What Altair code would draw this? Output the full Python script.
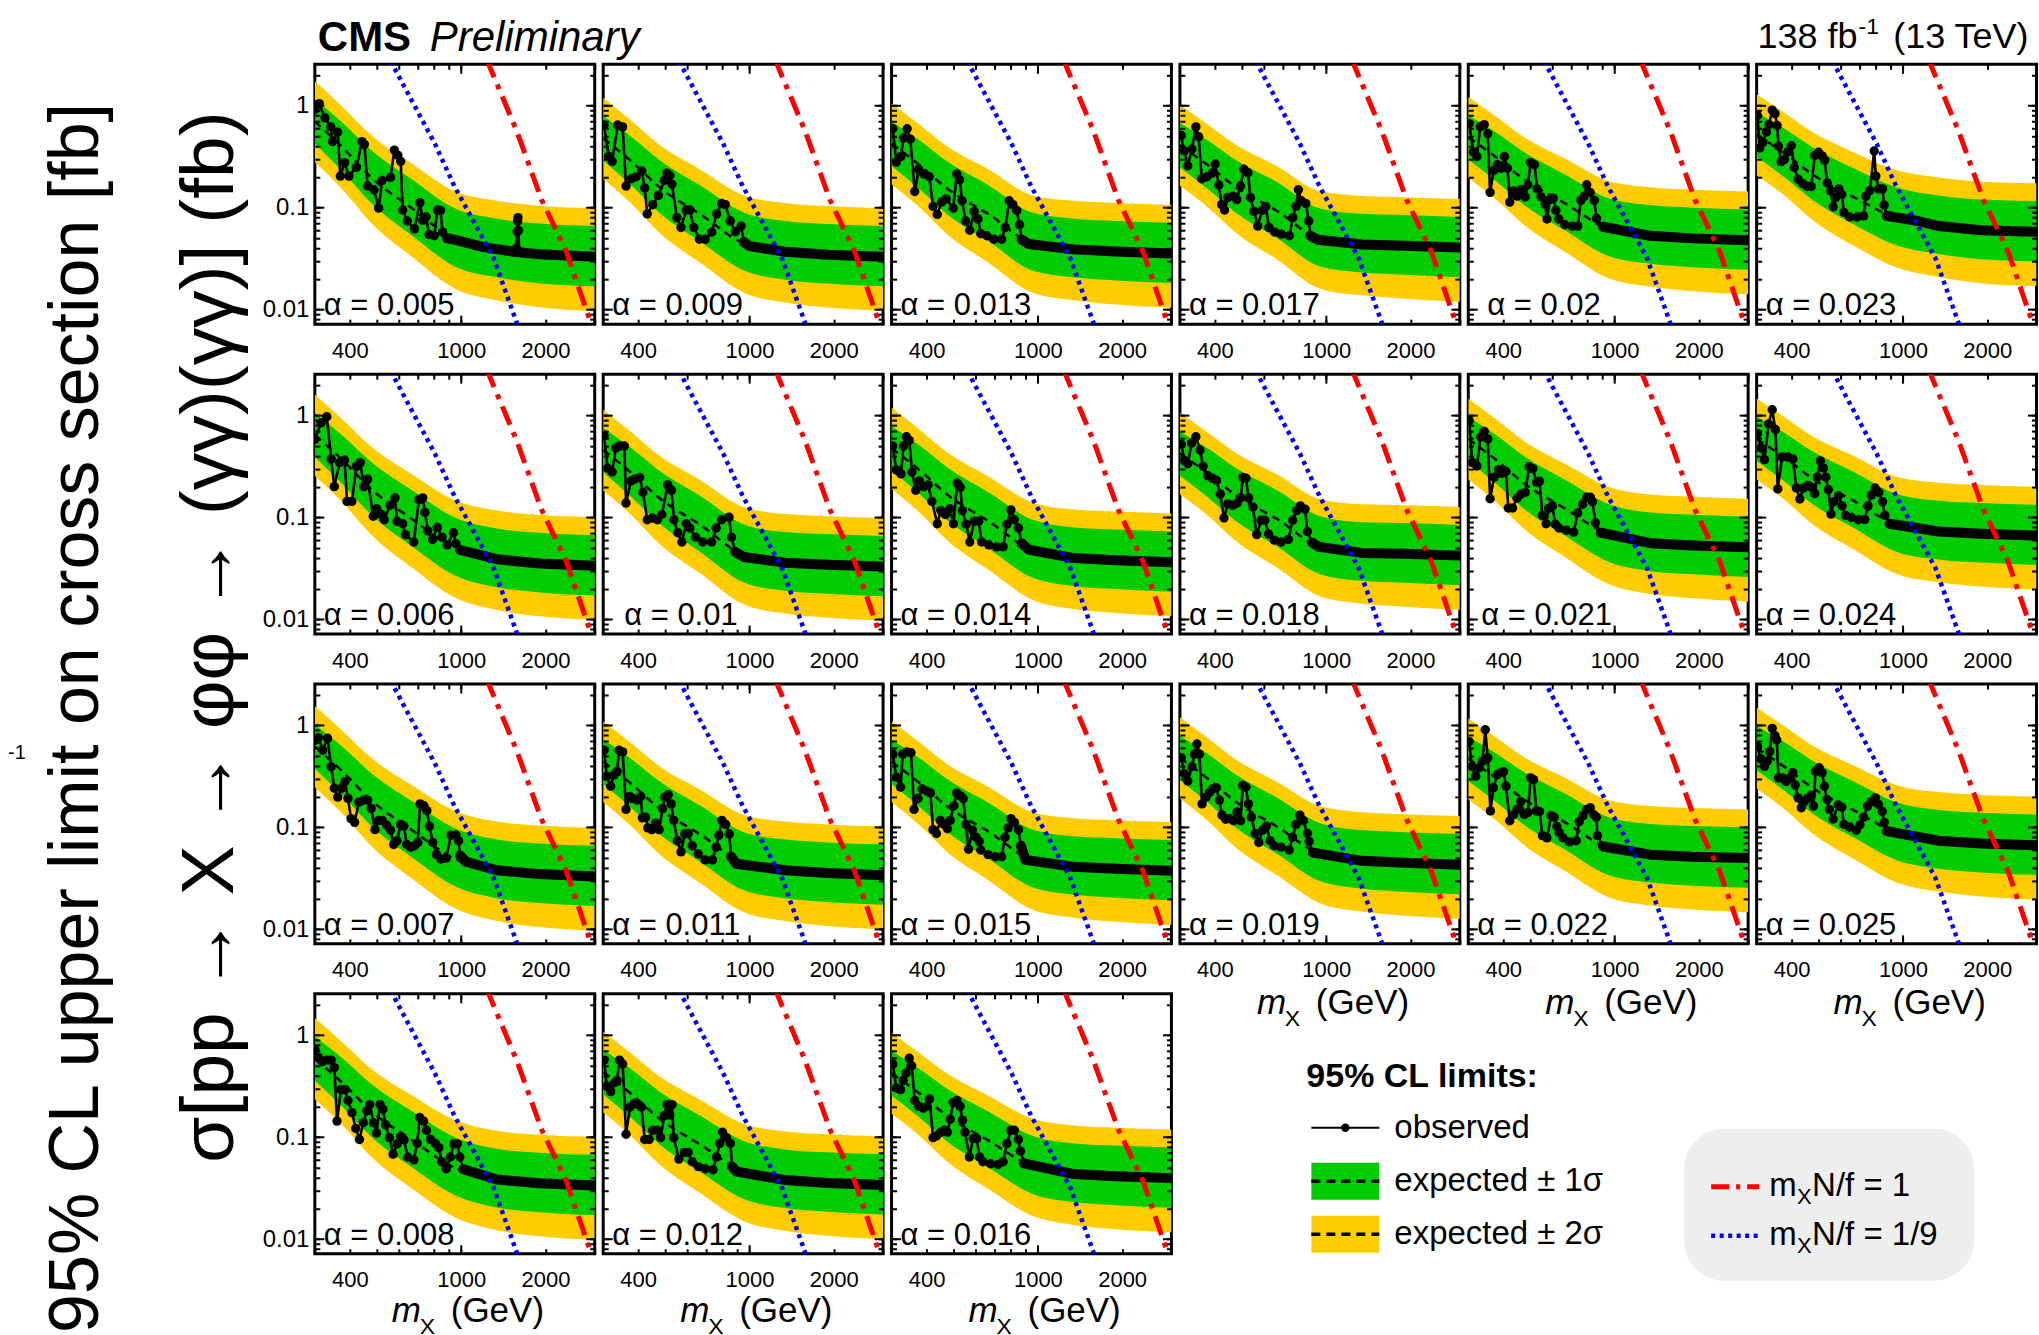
import altair as alt
import pandas as pd

FONT = "Liberation Sans"
YELLOW = "#ffcc00"
GREEN = "#00cc00"

# ---------------- data ----------------
ALPHA_LABELS = ["0.005", "0.009", "0.013", "0.017", "0.02", "0.023",
                "0.006", "0.01", "0.014", "0.018", "0.021", "0.024",
                "0.007", "0.011", "0.015", "0.019", "0.022", "0.025",
                "0.008", "0.012", "0.016"]

BAND_M = [300, 380, 475, 670, 950, 1340, 1900, 3000]
# relative widths of the expected bands (upper factor / lower divisor)
BAND_G_UP = [1.65, 1.75, 1.85, 1.92, 2.0, 2.0, 2.0, 2.0]
BAND_G_DN = [1.65, 1.72, 1.78, 1.85, 1.85, 1.88, 1.92, 1.95]
BAND_Y_UP = [2.5, 2.5, 2.6, 2.75, 2.95, 3.0, 3.0, 3.0]
BAND_Y_DN = [2.5, 2.6, 2.8, 3.0, 3.05, 3.15, 3.3, 3.4]

EXPECTED = [
    [0.70, 0.381, 0.200, 0.0977, 0.049, 0.039, 0.0349, 0.033],
    [0.48, 0.281, 0.160, 0.0853, 0.045, 0.037, 0.0346, 0.033],
    [0.424, 0.258, 0.153, 0.0856, 0.045, 0.039, 0.0371, 0.0355],
    [0.41, 0.258, 0.159, 0.0922, 0.049, 0.0435, 0.0423, 0.0406],
    [0.49, 0.308, 0.189, 0.109, 0.062, 0.053, 0.050, 0.048],
    [0.52, 0.336, 0.212, 0.126, 0.079, 0.066, 0.060, 0.058],
    [0.644, 0.357, 0.192, 0.0958, 0.050, 0.039, 0.0354, 0.0336],
    [0.46, 0.271, 0.156, 0.0841, 0.043, 0.036, 0.0344, 0.033],
    [0.48, 0.287, 0.167, 0.091, 0.048, 0.040, 0.0382, 0.0365],
    [0.424, 0.268, 0.165, 0.0958, 0.0515, 0.045, 0.0441, 0.0423],
    [0.59, 0.362, 0.216, 0.121, 0.068, 0.056, 0.0533, 0.051],
    [0.59, 0.382, 0.241, 0.145, 0.085, 0.073, 0.0694, 0.0667],
    [0.62, 0.345, 0.186, 0.0934, 0.049, 0.038, 0.0348, 0.033],
    [0.44, 0.264, 0.154, 0.0844, 0.045, 0.038, 0.0356, 0.034],
    [0.44, 0.269, 0.160, 0.090, 0.048, 0.041, 0.0392, 0.0375],
    [0.48, 0.296, 0.178, 0.101, 0.055, 0.047, 0.0449, 0.043],
    [0.47, 0.30, 0.1875, 0.1105, 0.063, 0.054, 0.0515, 0.05],
    [0.60, 0.386, 0.244, 0.146, 0.088, 0.074, 0.0694, 0.0667],
    [0.59, 0.333, 0.182, 0.093, 0.050, 0.0385, 0.0353, 0.0336],
    [0.436, 0.262, 0.153, 0.084, 0.046, 0.038, 0.0356, 0.034],
    [0.424, 0.264, 0.161, 0.092, 0.052, 0.0435, 0.0414, 0.0397],
]

OBSERVED = [
    # 0.005
    [(300, .915), (311, 1.05), (326, .76), (342, .62), (347, .445), (362, .55), (370, .204), (383, .277),
     (397, .204), (422, .248), (442, .445), (451, .418), (463, .163), (488, .150), (507, .099), (522, .185),
     (559, .198), (577, .367), (594, .327), (608, .285), (618, .095), (642, .074), (681, .062), (712, .112),
     (729, .075), (749, .081), (768, .0545), (801, .053), (822, .095), (843, .094), (858, .0575), (892, .050),
     (962, .048), (1200, .041), (1540, .037), (1575, .040), (1585, .058), (1590, .074), (1596, .080),
     (1602, .060), (1612, .037), (1900, .0349), (3000, .033)],
    # 0.009
    [(302, .648), (314, .318), (323, .285), (338, .648), (352, .62), (362, .163), (379, .1925), (393, .201),
     (412, .229), (422, .156), (431, .087), (451, .107), (472, .132), (496, .185), (507, .218), (519, .207),
     (528, .170), (550, .080), (569, .064), (594, .095), (612, .095), (632, .064), (662, .049), (694, .049),
     (732, .0575), (763, .087), (795, .110), (819, .107), (854, .074), (890, .058), (933, .066), (954, .046),
     (997, .042), (1340, .037), (1900, .0346), (3000, .033)],
    # 0.013
    [(303, .595), (312, .28), (324, .318), (331, .482), (341, .595), (350, .47), (363, .144), (375, .238),
     (391, .214), (409, .201), (422, .103), (437, .086), (453, .114), (470, .122), (498, .099), (513, .214),
     (525, .188), (536, .117), (552, .074), (571, .060), (592, .092), (611, .0775), (625, .0555), (657, .053),
     (696, .049), (742, .049), (765, .064), (790, .117), (814, .107), (840, .094), (860, .068), (876, .0485),
     (927, .044), (1340, .039), (1900, .0371), (3000, .0355)],
    # 0.017
    [(303, .51), (311, .36), (320, .258), (331, .376), (342, .62), (350, .497), (359, .1925), (375, .201),
     (391, .218), (401, .268), (413, .167), (423, .107), (433, .095), (445, .126), (465, .13), (479, .12),
     (494, .163), (508, .238), (525, .22), (536, .126), (552, .092), (569, .066), (590, .094), (608, .103),
     (624, .064), (655, .0575), (691, .055), (738, .053), (760, .080), (780, .103), (795, .150), (814, .117),
     (845, .110), (866, .074), (878, .053), (933, .0485), (1340, .0435), (1900, .0423), (3000, .0406)],
    # 0.02
    [(302, .665), (313, .353), (322, .318), (331, .623), (342, .653), (352, .531), (359, .1415), (370, .232),
     (381, .264), (393, .2435), (404, .318), (414, .2435), (422, .1135), (435, .146), (448, .13), (462, .150),
     (479, .1277), (490, .168), (501, .277), (517, .264), (529, .153), (546, .1277), (565, .108), (573, .0775),
     (587, .12), (604, .124), (617, .094), (632, .0775), (664, .068), (706, .066), (738, .066), (757, .118),
     (780, .13), (795, .168), (817, .1415), (846, .118), (862, .0785), (909, .065), (1340, .053), (1900, .050),
     (3000, .048)],
    # 0.023
    [(302, .803), (308, .385), (316, .44), (325, .554), (332, .653), (341, .906), (349, .836), (355, .64),
     (359, .40), (367, .283), (377, .297), (388, .353), (399, .405), (409, .248), (422, .19), (438, .172),
     (456, .1614), (470, .1614), (484, .325), (499, .35), (514, .322), (525, .293), (536, .175), (552, .146),
     (563, .102), (574, .125), (590, .153), (604, .135), (615, .09), (645, .081), (686, .081), (723, .083),
     (737, .13), (762, .148), (789, .36), (800, .204), (820, .153), (845, .153), (857, .106), (875, .083),
     (1131, .074), (1340, .066), (1900, .060), (3000, .058)],
    # 0.006
    [(300, .585), (316, .85), (331, .975), (343, .376), (352, .201), (368, .346), (383, .367), (391, .144),
     (407, .144), (422, .318), (436, .346), (449, .201), (463, .238), (485, .103), (499, .122), (519, .107),
     (531, .095), (557, .132), (580, .156), (590, .092), (618, .087), (632, .068), (677, .0575), (706, .150),
     (729, .156), (742, .112), (760, .074), (790, .061), (822, .080), (854, .064), (892, .054), (938, .071),
     (957, .0555), (991, .048), (1340, .039), (1900, .0354), (3000, .0336)],
    # 0.01
    [(302, .635), (311, .304), (323, .28), (333, .482), (343, .503), (357, .503), (362, .139), (377, .229),
     (388, .238), (405, .248), (416, .177), (431, .095), (449, .099), (468, .095), (486, .107), (510, .209),
     (526, .185), (537, .095), (554, .071), (573, .0575), (594, .087), (612, .079), (642, .064), (681, .0575),
     (732, .0575), (760, .079), (795, .095), (845, .101), (862, .064), (890, .046), (954, .041), (1340, .036),
     (1900, .0344), (3000, .033)],
    # 0.014
    [(303, .503), (312, .293), (324, .268), (331, .503), (339, .62), (347, .571), (355, .28), (366, .185),
     (377, .229), (391, .201), (405, .209), (418, .144), (437, .087), (450, .117), (467, .107), (485, .122),
     (499, .087), (515, .218), (528, .198), (537, .117), (554, .086), (571, .0575), (592, .092), (614, .092),
     (630, .0575), (667, .054), (712, .0515), (751, .0515), (775, .086), (801, .119), (824, .095), (852, .079),
     (876, .0555), (927, .0485), (1340, .040), (1900, .0382), (3000, .0365)],
    # 0.018
    [(303, .5225), (312, .36), (320, .337), (330, .537), (342, .62), (354, .46), (363, .318), (377, .258),
     (391, .2435), (405, .232), (418, .170), (431, .099), (445, .136), (463, .132), (481, .139), (494, .156),
     (504, .248), (516, .2435), (528, .156), (547, .127), (564, .068), (585, .094), (603, .094), (622, .069),
     (652, .060), (689, .0575), (732, .061), (758, .094), (785, .117), (808, .13), (840, .121), (856, .073),
     (892, .0565), (942, .0515), (1340, .045), (1900, .0441), (3000, .0423)],
    # 0.021
    [(302, .893), (310, .346), (322, .32), (332, .616), (342, .701), (352, .59), (359, .153), (371, .249),
     (385, .295), (396, .271), (409, .283), (417, .124), (432, .124), (448, .155), (462, .169), (479, .176),
     (495, .315), (510, .302), (526, .221), (539, .227), (552, .105), (569, .087), (581, .123), (599, .13),
     (614, .086), (632, .079), (672, .0753), (714, .072), (738, .111), (768, .135), (795, .158), (819, .158),
     (833, .143), (854, .089), (892, .071), (1340, .056), (1900, .0533), (3000, .051)],
    # 0.024
    [(302, .665), (311, .482), (320, .37), (331, .826), (341, 1.14), (350, .73), (357, .191), (370, .393),
     (387, .393), (404, .376), (416, .195), (428, .152), (441, .195), (457, .207), (470, .20), (484, .172),
     (494, .249), (507, .36), (520, .305), (530, .249), (541, .188), (553, .108), (566, .143), (588, .163),
     (606, .13), (624, .105), (654, .1), (693, .095), (730, .096), (750, .13), (771, .166), (795, .195),
     (820, .176), (845, .143), (862, .105), (896, .087), (1340, .073), (1900, .0694), (3000, .0667)],
    # 0.007
    [(300, .714), (309, .76), (320, .571), (333, .748), (343, .394), (352, .242), (362, .198), (374, .242),
     (384, .28), (394, .1925), (404, .122), (416, .112), (431, .177), (447, .185), (463, .185), (477, .153),
     (492, .095), (507, .117), (522, .117), (542, .105), (559, .094), (574, .068), (590, .074), (608, .107),
     (624, .103), (639, .068), (660, .064), (681, .066), (700, .071), (713, .170), (736, .163), (754, .146),
     (770, .103), (791, .071), (816, .054), (846, .049), (884, .050), (920, .084), (957, .084), (979, .074),
     (991, .053), (1040, .046), (1340, .038), (1900, .0348), (3000, .033)],
    # 0.011
    [(302, .571), (309, .318), (319, .253), (328, .327), (336, .355), (342, .571), (352, .55), (362, .150),
     (373, .201), (383, .1925), (397, .185), (409, .201), (414, .124), (425, .126), (433, .099), (447, .095),
     (462, .110), (475, .095), (489, .153), (499, .198), (512, .209), (525, .170), (536, .117), (552, .074),
     (569, .0575), (587, .086), (604, .087), (624, .066), (656, .055), (694, .048), (737, .048), (760, .064),
     (777, .084), (797, .117), (822, .107), (846, .086), (860, .0515), (896, .044), (1340, .038),
     (1900, .0356), (3000, .034)],
    # 0.015
    [(303, .5225), (312, .31), (323, .248), (329, .5225), (340, .55), (352, .54), (361, .150), (373, .1925),
     (386, .238), (401, .226), (413, .218), (422, .095), (434, .087), (448, .117), (462, .107), (475, .097),
     (486, .117), (501, .163), (513, .218), (529, .204), (541, .191), (553, .107), (565, .061), (583, .094),
     (601, .080), (617, .073), (625, .060), (664, .054), (705, .0515), (742, .0515), (763, .080), (783, .099),
     (801, .122), (824, .112), (852, .095), (869, .066), (903, .048), (1340, .041), (1900, .0392),
     (3000, .0375)],
    # 0.019
    [(303, .482), (311, .337), (320, .285), (331, .394), (338, .5225), (345, .657), (352, .5225), (360, .170),
     (372, .198), (383, .22), (393, .238), (405, .245), (415, .185), (424, .132), (437, .12), (451, .122),
     (466, .116), (480, .1415), (494, .116), (503, .258), (516, .248), (527, .170), (540, .126), (557, .087),
     (574, .071), (592, .094), (611, .103), (630, .074), (651, .066), (689, .064), (737, .060), (758, .080),
     (780, .107), (805, .132), (829, .116), (856, .087), (869, .073), (896, .0565), (1340, .047),
     (1900, .0449), (3000, .043)],
    # 0.022
    [(302, .694), (309, .397), (319, .318), (328, .385), (337, .445), (345, .906), (352, .48), (360, .145),
     (369, .245), (381, .33), (392, .344), (401, .352), (409, .253), (422, .116), (435, .133), (448, .150),
     (462, .179), (475, .134), (490, .140), (501, .306), (513, .294), (526, .145), (539, .143), (552, .083),
     (573, .079), (593, .130), (608, .126), (622, .102), (634, .089), (654, .079), (690, .072), (729, .074),
     (747, .114), (771, .130), (795, .150), (819, .156), (843, .133), (860, .126), (868, .083), (909, .065),
     (1340, .054), (1900, .0515), (3000, .05)],
    # 0.025
    [(302, .62), (311, .47), (320, .397), (327, .445), (334, .554), (341, .936), (349, .793), (354, .72),
     (359, .306), (370, .306), (382, .282), (394, .306), (404, .344), (412, .26), (422, .195), (433, .156),
     (443, .179), (456, .1925), (470, .207), (479, .162), (487, .355), (502, .385), (514, .343), (524, .253),
     (535, .187), (546, .150), (563, .121), (587, .166), (604, .158), (615, .107), (645, .101), (681, .094),
     (702, .106), (723, .126), (747, .1614), (771, .179), (797, .195), (817, .168), (843, .143), (857, .112),
     (875, .092), (1340, .074), (1900, .0694), (3000, .0667)],
    # 0.008
    [(300, .73), (309, .606), (319, .55), (331, .571), (343, .571), (352, .482), (360, .144), (372, .293),
     (384, .293), (394, .229), (407, .174), (420, .122), (433, .095), (447, .139), (460, .1815), (471, .209),
     (486, .139), (498, .110), (513, .209), (525, .188), (537, .132), (554, .099), (571, .068), (590, .086),
     (608, .102), (625, .094), (644, .064), (677, .060), (696, .087), (711, .156), (734, .144), (751, .117),
     (777, .095), (808, .087), (832, .079), (852, .0575), (884, .049), (914, .064), (942, .086), (969, .086),
     (989, .064), (1017, .0485), (1340, .0385), (1900, .0353), (3000, .0336)],
    # 0.012
    [(302, .571), (309, .318), (319, .28), (329, .342), (336, .36), (343, .571), (352, .5225), (362, .107),
     (374, .198), (387, .214), (400, .209), (411, .198), (422, .095), (438, .095), (451, .117), (468, .117),
     (481, .099), (496, .163), (507, .209), (519, .165), (528, .209), (536, .099), (559, .061), (585, .071),
     (603, .071), (624, .0575), (656, .0515), (694, .049), (740, .048), (762, .064), (783, .087), (801, .112),
     (827, .099), (854, .087), (866, .0515), (900, .046), (1340, .038), (1900, .0356), (3000, .034)],
    # 0.016
    [(303, .5225), (312, .304), (323, .293), (330, .36), (338, .425), (347, .595), (354, .503), (363, .229),
     (375, .201), (389, .1925), (401, .201), (410, .238), (422, .099), (434, .103), (449, .112), (463, .117),
     (475, .112), (486, .150), (498, .218), (514, .229), (527, .201), (538, .147), (549, .112), (569, .064),
     (587, .097), (604, .097), (619, .064), (636, .0575), (677, .055), (720, .054), (751, .0575), (775, .087),
     (801, .117), (824, .117), (852, .095), (866, .073), (892, .0555), (1340, .0435), (1900, .0414),
     (3000, .0397)],
]

# mass from which the observed points are so dense that they form a thick line
DENSE_FROM = [892, 954, 876, 878, 909, 875,
              991, 890, 876, 892, 892, 896,
              991, 860, 869, 896, 909, 875,
              1017, 866, 892]
# isolated excursion inside the dense region (alpha = 0.005), drawn as single points
DENSE_GAP = {0: (1560, 1620)}

# benchmark curves m_X N/f = 1/9 (blue) and = 1 (red)
BLUE_M = [560, 613, 805, 945, 1113, 1307, 1538, 1620]
BLUE_V = [2.74, 1.72, 0.425, 0.163, 0.0717, 0.0318, 0.0091, 0.0061]
RED_M = [1230, 1254, 1578, 1935, 2372, 2886, 2950]
RED_V = [2.89, 2.55, 0.569, 0.1204, 0.0373, 0.0078, 0.0066]

# ---------------- tables ----------------
band_rows = []
for p, ex in enumerate(EXPECTED):
    for m, e, gu, gd, yu, yd in zip(BAND_M, ex, BAND_G_UP, BAND_G_DN, BAND_Y_UP, BAND_Y_DN):
        band_rows.append({"panel": p, "m": m, "exp": e, "g_lo": e / gd, "g_hi": e * gu,
                          "y_lo": e / yd, "y_hi": e * yu})
BANDS = pd.DataFrame(band_rows)

obs_rows = []
for p, pts in enumerate(OBSERVED):
    gap = DENSE_GAP.get(p)
    for m, v in pts:
        dense = m >= DENSE_FROM[p]
        if gap and gap[0] <= m <= gap[1]:
            dense = False
        obs_rows.append({"panel": p, "m": m, "v": v, "dense": bool(dense)})
OBS = pd.DataFrame(obs_rows)

THEORY = pd.DataFrame(
    [{"series": "ninth", "m": m, "v": v} for m, v in zip(BLUE_M, BLUE_V)]
    + [{"series": "one", "m": m, "v": v} for m, v in zip(RED_M, RED_V)])

LABELS = pd.DataFrame({"panel": list(range(len(ALPHA_LABELS))),
                       "label": ["\u03b1 = " + a for a in ALPHA_LABELS]})
ONE = pd.DataFrame({"k": [0]})

# ---------------- layout constants ----------------
W, H = 280, 260
SP_X, SP_Y = 8.5, 50
XS = alt.Scale(type="log", domain=[300, 3000], nice=False)
YS = alt.Scale(type="log", domain=[0.0072, 2.55], nice=False)
X_ALL = [400, 500, 600, 700, 800, 900, 1000, 2000, 3000]
X_MAJ = [1000]
Y_ALL = [0.008, 0.009, 0.01, 0.02, 0.03, 0.04, 0.05, 0.06, 0.07, 0.08, 0.09,
         0.1, 0.2, 0.3, 0.4, 0.5, 0.6, 0.7, 0.8, 0.9, 1, 2]
Y_MAJ = [0.01, 0.1, 1]
XEXPR = "(datum.value == 400 || datum.value == 1000 || datum.value == 2000) ? format(datum.value, 'd') : ''"
YEXPR = "datum.value == 1 ? '1' : (datum.value == 0.1 ? '0.1' : (datum.value == 0.01 ? '0.01' : ''))"
LABEL_SHIFT = {"0.01": 12, "0.02": 10, "0.021": 4}


def ax(orient, values, size, **kw):
    base = dict(orient=orient, values=values, tickSize=size, offset=-size, domain=False, grid=False,
                tickColor="black", tickWidth=2, title=None, zindex=1, labelFlush=False,
                labelOverlap=False, labels=False)
    base.update(kw)
    return alt.Axis(**base)


def txt(x, y, s, size, **kw):
    props = dict(align="left", baseline="alphabetic", font=FONT, fontSize=size, color="black")
    props.update(kw)
    return alt.Chart(ONE).mark_text(**props).encode(x=alt.value(x), y=alt.value(y), text=alt.value(s))


def hline(x1, x2, y, color, width, dash=None):
    kw = dict(color=color, strokeWidth=width)
    if dash:
        kw["strokeDash"] = dash
    return alt.Chart(ONE).mark_rule(**kw).encode(x=alt.value(x1), x2=alt.value(x2), y=alt.value(y))


def box(x1, x2, y1, y2, color, radius=0):
    return alt.Chart(ONE).mark_rect(color=color, cornerRadius=radius).encode(
        x=alt.value(x1), x2=alt.value(x2), y=alt.value(y1), y2=alt.value(y2))


def mx_title(base):
    return [txt(77, base, "m", 35, fontStyle="italic"),
            txt(105, base + 12, "X", 23),
            txt(136, base, "(GeV)", 35)]


def extras_for(p):
    out = []
    if p == 0:
        out += [txt(3, -13, "CMS", 42, fontWeight="bold"),
                txt(115, -13, "Preliminary", 42, fontStyle="italic"),
                txt(-238, 654, "95% CL upper limit on cross section [fb]", 70,
                    angle=270, align="center", baseline="middle"),
                txt(-105, 573, "\u03c3[pp \u2192 X \u2192 \u03c6\u03c6 \u2192 (\u03b3\u03b3)(\u03b3\u03b3)] (fb)", 75,
                    angle=270, align="center", baseline="middle"),
                txt(-307, 689, "-1", 20, baseline="middle")]
    if p == 5:
        out += [txt(101, -16, "138 fb", 36, align="right"),
                txt(102, -30, "-1", 23),
                txt(272, -16, "(13 TeV)", 36, align="right")]
    if p in (15, 16, 17):
        out += mx_title(330)
    if p in (18, 19, 20):
        out += mx_title(328)
    if p == 20:
        out += [
            txt(415, 93, "95% CL limits:", 34, fontWeight="bold"),
            hline(420, 488, 134, "black", 2),
            alt.Chart(ONE).mark_circle(color="black", size=70, opacity=1).encode(
                x=alt.value(454), y=alt.value(134)),
            txt(503, 144, "observed", 33),
            box(420, 488, 169, 206, GREEN),
            hline(420, 488, 187.5, "black", 3.5, [9, 6]),
            txt(503, 197, "expected \u00b1 1\u03c3", 33),
            box(420, 488, 222, 259, YELLOW),
            hline(420, 488, 240.5, "black", 3.5, [9, 6]),
            txt(503, 250, "expected \u00b1 2\u03c3", 33),
            box(793, 1083, 135, 287, "#eeeeee", 40),
            hline(820, 868, 193, "#ff0000", 5, [18, 7, 4, 7]),
            txt(878, 202, "m", 33), txt(906, 210, "X", 22), txt(921, 202, "N/f = 1", 33),
            hline(820, 868, 242, "#0000ff", 4.5, [4, 4.5]),
            txt(878, 251, "m", 33), txt(906, 259, "X", 22), txt(921, 251, "N/f = 1/9", 33),
        ]
    return out


def make_panel(p, col):
    bsrc = alt.Chart(BANDS).transform_filter(alt.datum.panel == p)
    osrc = alt.Chart(OBS).transform_filter(alt.datum.panel == p)
    tsrc = alt.Chart(THEORY)
    left_axis = ax("left", Y_ALL, 5, labels=(col == 0), labelExpr=YEXPR, labelFont=FONT,
                   labelFontSize=24, labelColor="black", labelPadding=6)
    bottom_axis = ax("bottom", X_ALL, 5, labels=True, labelExpr=XEXPR, labelFont=FONT,
                     labelFontSize=22, labelColor="black", labelPadding=16)

    yellow = bsrc.mark_area(color=YELLOW, interpolate="monotone", clip=True).encode(
        x=alt.X("m:Q", scale=XS, axis=bottom_axis),
        y=alt.Y("y_lo:Q", scale=YS, axis=left_axis), y2="y_hi:Q")
    green = bsrc.mark_area(color=GREEN, interpolate="monotone", clip=True).encode(
        x=alt.X("m:Q", scale=XS, axis=ax("bottom", X_MAJ, 9)),
        y=alt.Y("g_lo:Q", scale=YS, axis=ax("left", Y_MAJ, 9)), y2="g_hi:Q")
    expl = bsrc.mark_line(color="black", strokeDash=[8, 6], strokeWidth=2.5, interpolate="monotone",
                          clip=True).encode(
        x=alt.X("m:Q", scale=XS, axis=ax("top", X_ALL, 5)),
        y=alt.Y("exp:Q", scale=YS, axis=ax("right", Y_ALL, 5)))
    obs_line = osrc.mark_line(color="black", strokeWidth=2.6, clip=True).encode(
        x=alt.X("m:Q", scale=XS, axis=ax("top", X_MAJ, 9)),
        y=alt.Y("v:Q", scale=YS, axis=ax("right", Y_MAJ, 9)))
    obs_dense = osrc.transform_filter(alt.datum.dense).mark_line(
        color="black", strokeWidth=10, strokeCap="round", strokeJoin="round", clip=True).encode(
        x=alt.X("m:Q", scale=XS, axis=None), y=alt.Y("v:Q", scale=YS, axis=None))
    obs_pts = osrc.mark_circle(color="black", size=88, opacity=1, clip=True).encode(
        x=alt.X("m:Q", scale=XS, axis=None), y=alt.Y("v:Q", scale=YS, axis=None))
    blue = tsrc.transform_filter(alt.datum.series == "ninth").mark_line(
        color="#0000ff", strokeDash=[4, 4.5], strokeWidth=4.5, clip=True).encode(
        x=alt.X("m:Q", scale=XS, axis=None), y=alt.Y("v:Q", scale=YS, axis=None))
    red = tsrc.transform_filter(alt.datum.series == "one").mark_line(
        color="#ff0000", strokeDash=[20, 8, 5, 8], strokeWidth=5, clip=True).encode(
        x=alt.X("m:Q", scale=XS, axis=None), y=alt.Y("v:Q", scale=YS, axis=None))
    label = alt.Chart(LABELS).transform_filter(alt.datum.panel == p).mark_text(
        align="left", baseline="alphabetic", font=FONT, fontSize=31, color="black").encode(
        x=alt.value(9 + LABEL_SHIFT.get(ALPHA_LABELS[p], 0)), y=alt.value(251), text="label:N")

    layers = [yellow, green, expl, obs_line, obs_dense, obs_pts, blue, red, label] + extras_for(p)
    return alt.layer(*layers).resolve_axis(x="independent", y="independent").properties(
        width=W, height=H)


GRID = [[0, 1, 2, 3, 4, 5], [6, 7, 8, 9, 10, 11], [12, 13, 14, 15, 16, 17], [18, 19, 20]]
panels = []
for row in GRID:
    for c, p in enumerate(row):
        panels.append(make_panel(p, c))

chart = alt.concat(*panels, columns=6, spacing={"row": SP_Y, "column": SP_X}, bounds="flush").properties(
    padding={"left": 6, "top": 14, "right": 0, "bottom": 0},
    background="white",
).configure_view(stroke="black", strokeWidth=3)

chart.save("out.html", embed_options={"renderer": "svg", "actions": False})
